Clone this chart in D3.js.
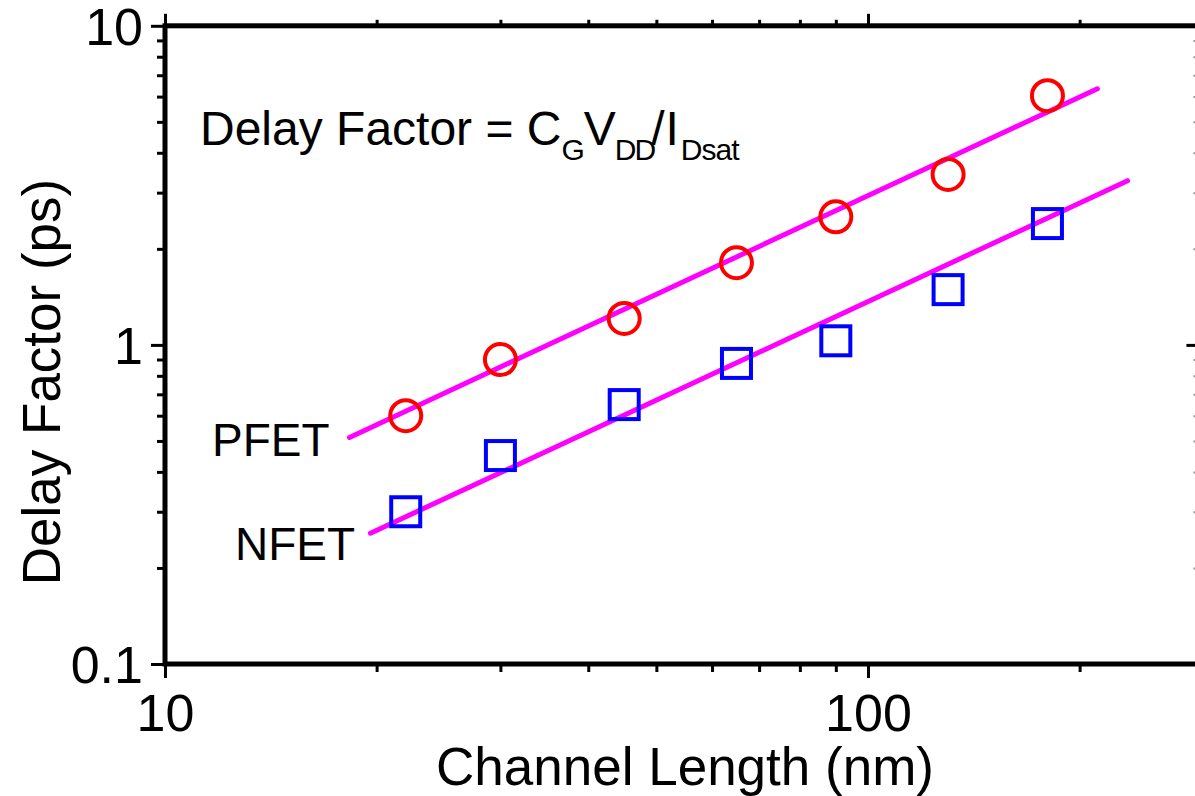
<!DOCTYPE html>
<html>
<head>
<meta charset="utf-8">
<script src="https://cdn.jsdelivr.net/npm/d3@7"></script>
<style>
  body { margin: 0; background: #fff; }
  svg { display: block; font-family: "Liberation Sans", Arial, sans-serif; }
</style>
</head>
<body>
<svg id="chart" width="1195" height="796"></svg>
<script>
// channel lengths (nm)
var lengths = [22, 30, 45, 65, 90, 130, 180];
// delay factor (ps)
var pfet = [0.60, 0.90, 1.21, 1.81, 2.52, 3.42, 6.04];
var nfet = [0.30, 0.45, 0.65, 0.875, 1.03, 1.49, 2.40];
// power-law fit lines, [length, delay] end points
var pfetFit = [[18.3, 0.513], [212, 6.35]];
var nfetFit = [[19.6, 0.257], [234, 3.27]];

var xMajor = [10, 100];
var xMinor = [20, 30, 40, 50, 60, 70, 80, 90, 200];
var yMajor = [0.1, 1, 10];
var yMinor = [0.2, 0.3, 0.4, 0.5, 0.6, 0.7, 0.8, 0.9, 2, 3, 4, 5, 6, 7, 8, 9];

var svg = d3.select('#chart');

var x = d3.scaleLog().domain([10, 300]).range([165, 1203.4]);
var y = d3.scaleLog().domain([0.1, 10]).range([664, 25.8]);

// frame edges (plotTop, not "top": that one belongs to window)
var plotLeft = x(10), plotRight = x(300), plotTop = y(10), plotBottom = y(0.1);

function fmt(d) { return d < 1 ? '0.1' : String(d); }

// axes: bottom/left ticks outward, top/right ticks inward
function axisGroup(axis, transform) {
    var g = svg.append('g').attr('transform', transform).call(axis);
    g.select('.domain').remove();
    g.selectAll('line').attr('stroke', '#000').attr('stroke-width', 3);
    g.selectAll('text')
        .attr('fill', '#000')
        .style('font-size', '52px')
        .style('font-family', '"Liberation Sans", Arial, sans-serif');
    return g;
}

axisGroup(d3.axisBottom(x).tickValues(xMajor).tickSize(14).tickPadding(16).tickFormat(fmt), 'translate(0,' + plotBottom + ')');
axisGroup(d3.axisBottom(x).tickValues(xMinor).tickSize(8).tickFormat(''), 'translate(0,' + plotBottom + ')');
axisGroup(d3.axisBottom(x).tickValues(xMajor).tickSize(-12).tickFormat(''), 'translate(0,' + plotTop + ')');
axisGroup(d3.axisBottom(x).tickValues(xMinor).tickSize(-6).tickFormat(''), 'translate(0,' + plotTop + ')');

axisGroup(d3.axisLeft(y).tickValues(yMajor).tickSize(14).tickPadding(8).tickFormat(fmt), 'translate(' + plotLeft + ',0)')
    .selectAll('text').attr('dy', '0.36em');
axisGroup(d3.axisLeft(y).tickValues(yMinor).tickSize(8).tickFormat(''), 'translate(' + plotLeft + ',0)');
axisGroup(d3.axisRight(y).tickValues(yMajor).tickSize(-17).tickFormat(''), 'translate(' + plotRight + ',0)');
axisGroup(d3.axisRight(y).tickValues(yMinor).tickSize(-10).tickFormat(''), 'translate(' + plotRight + ',0)')
    .selectAll('line').attr('stroke', '#999').attr('stroke-width', 2);

// plot frame
svg.append('rect')
    .attr('x', plotLeft).attr('y', plotTop)
    .attr('width', plotRight - plotLeft).attr('height', plotBottom - plotTop)
    .attr('fill', 'none').attr('stroke', '#000').attr('stroke-width', 5);

// fit lines
var line = d3.line().x(function(d) { return x(d[0]); }).y(function(d) { return y(d[1]); });
[pfetFit, nfetFit].forEach(function(f) {
    svg.append('path').attr('d', line(f))
        .attr('fill', 'none').attr('stroke', '#ff00ff')
        .attr('stroke-width', 5).attr('stroke-linecap', 'round');
});

// PFET: open red circles
svg.selectAll('circle.pfet').data(lengths).enter().append('circle')
    .attr('class', 'pfet')
    .attr('cx', function(d) { return x(d); })
    .attr('cy', function(d, i) { return y(pfet[i]); })
    .attr('r', 15.5)
    .attr('fill', 'none').attr('stroke', '#ff0000').attr('stroke-width', 4);

// NFET: open blue squares
var sq = 29;
svg.selectAll('rect.nfet').data(lengths).enter().append('rect')
    .attr('class', 'nfet')
    .attr('x', function(d) { return x(d) - sq / 2; })
    .attr('y', function(d, i) { return y(nfet[i]) - sq / 2; })
    .attr('width', sq).attr('height', sq)
    .attr('fill', 'none').attr('stroke', '#0000ff').attr('stroke-width', 4);

// labels
svg.append('text').attr('x', 212).attr('y', 456).style('font-size', '46px').text('PFET');
svg.append('text').attr('x', 235).attr('y', 560).style('font-size', '46px').text('NFET');

var eq = svg.append('text').attr('x', 200).attr('y', 145).style('font-size', '48px');
eq.append('tspan').text('Delay Factor = C');
eq.append('tspan').attr('dy', 15).style('font-size', '30px').text('G');
eq.append('tspan').attr('dy', -15).attr('dx', -1).text('V');
eq.append('tspan').attr('dy', 15).attr('dx', -1).style('font-size', '30px').style('letter-spacing', '-2px').text('DD');
eq.append('tspan').attr('dy', -15).attr('dx', -3).text('/');
eq.append('tspan').attr('dx', 1).text('I');
eq.append('tspan').attr('dy', 15).attr('dx', 2).style('font-size', '30px').style('letter-spacing', '-1px').text('Dsat');

// axis titles
svg.append('text').attr('x', 685).attr('y', 785)
    .attr('text-anchor', 'middle').style('font-size', '53px')
    .text('Channel Length (nm)');
svg.append('text')
    .attr('transform', 'translate(60,382) rotate(-90)')
    .attr('text-anchor', 'middle').style('font-size', '53px')
    .text('Delay Factor (ps)');
</script>
</body>
</html>
